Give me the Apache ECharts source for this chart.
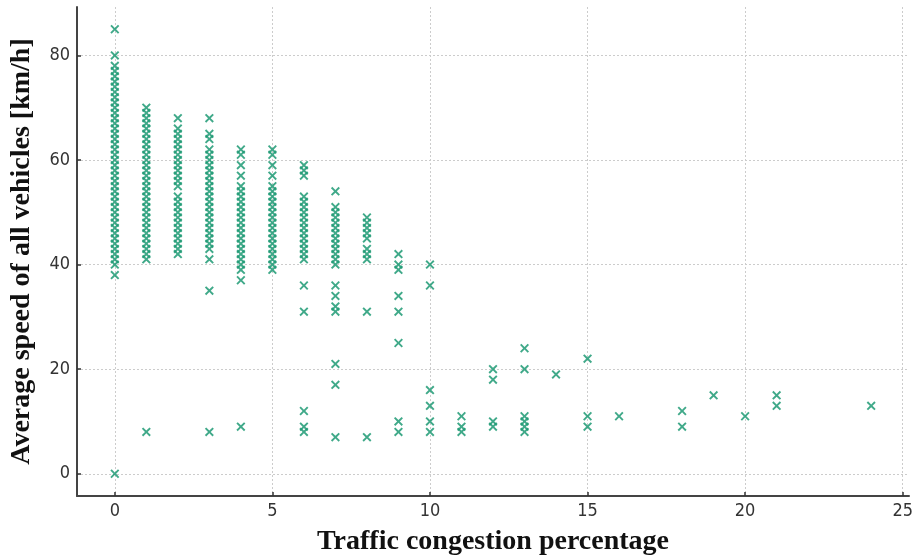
<!DOCTYPE html>
<html>
<head>
<meta charset="utf-8">
<script src="https://cdn.jsdelivr.net/npm/echarts@6/dist/echarts.min.js"></script>
<style>html,body{margin:0;padding:0;background:#fff;}#c{width:919px;height:560px;}</style>
</head>
<body>
<div id="c"></div>
<script>
// Traffic congestion percentage (x) and measured average speeds (y, km/h)
const speedsAt0 = [85, 80, 78, 77, 76, 75, 74, 73, 72, 71, 70, 69, 68, 67, 66, 65, 64, 63, 62, 61, 60, 59, 58, 57, 56, 55, 54, 53, 52, 51, 50, 49, 48, 47, 46, 45, 44, 43, 42, 41, 40, 38, 0];
const speedsAt1 = [70, 69, 68, 67, 66, 65, 64, 63, 62, 61, 60, 59, 58, 57, 56, 55, 54, 53, 52, 51, 50, 49, 48, 47, 46, 45, 44, 43, 42, 41, 8];
const speedsAt2 = [68, 66, 65, 64, 63, 62, 61, 60, 59, 58, 57, 56, 55, 53, 52, 51, 50, 49, 48, 47, 46, 45, 44, 43, 42];
const speedsAt3 = [68, 65, 64, 62, 61, 60, 59, 58, 57, 56, 55, 54, 53, 52, 51, 50, 49, 48, 47, 46, 45, 44, 43, 41, 35, 8];
const speedsAt4 = [62, 61, 59, 57, 55, 54, 53, 52, 51, 50, 49, 48, 47, 46, 45, 44, 43, 42, 41, 40, 39, 37, 9];
const speedsAt5 = [62, 61, 59, 57, 55, 54, 53, 52, 51, 50, 49, 48, 47, 46, 45, 44, 43, 42, 41, 40, 39];
const speedsAt6 = [59, 58, 57, 53, 52, 51, 50, 49, 48, 47, 46, 45, 44, 43, 42, 41, 36, 31, 12, 9, 8];
const speedsAt7 = [54, 51, 50, 49, 48, 47, 46, 45, 44, 43, 42, 41, 40, 36, 34, 32, 31, 21, 17, 7];
const speedsAt8 = [49, 48, 47, 46, 45, 43, 42, 41, 31, 7];
const speedsAt9 = [42, 40, 39, 34, 31, 25, 10, 8];
const speedsAt10 = [40, 36, 16, 13, 10, 8];
const speedsAt11 = [11, 9, 8];
const speedsAt12 = [20, 18, 10, 9];
const speedsAt13 = [24, 20, 11, 10, 9, 8];
const speedsAt14 = [19];
const speedsAt15 = [22, 11, 9];
const speedsAt16 = [11];
const speedsAt18 = [12, 9];
const speedsAt19 = [15];
const speedsAt20 = [11];
const speedsAt21 = [15, 13];
const speedsAt24 = [13];

const congestionLevels = [0, 1, 2, 3, 4, 5, 6, 7, 8, 9, 10, 11, 12, 13, 14, 15, 16, 18, 19, 20, 21, 24];
const speedsByLevel = [speedsAt0, speedsAt1, speedsAt2, speedsAt3, speedsAt4, speedsAt5, speedsAt6, speedsAt7, speedsAt8, speedsAt9, speedsAt10, speedsAt11, speedsAt12, speedsAt13, speedsAt14, speedsAt15, speedsAt16, speedsAt18, speedsAt19, speedsAt20, speedsAt21, speedsAt24];

const xTickValues = [0, 5, 10, 15, 20, 25];
const yTickValues = [0, 20, 40, 60, 80];

const points = [];
congestionLevels.forEach((lvl, i) => {
  speedsByLevel[i].forEach(v => points.push([lvl, v]));
});

const xMarker = 'path://M0,1.5L1.5,0L5,3.5L8.5,0L10,1.5L6.5,5L10,8.5L8.5,10L5,6.5L1.5,10L0,8.5L3.5,5Z';
const tickFont = "'DejaVu Sans Condensed', 'DejaVu Sans', sans-serif";
const titleFont = "'Liberation Serif', 'DejaVu Serif', serif";

const chart = echarts.init(document.getElementById('c'), null, {renderer: 'canvas'});
chart.setOption({
  animation: false,
  backgroundColor: '#ffffff',
  grid: {left: 77, right: 10, top: 7, bottom: 64, containLabel: false, outerBoundsMode: 'none'},
  xAxis: {
    type: 'value',
    min: -1.2,
    max: 25.2,
    name: 'Traffic congestion percentage',
    nameLocation: 'middle',
    nameGap: 32,
    nameTextStyle: {fontFamily: titleFont, fontWeight: 'bold', fontSize: 28, color: '#111'},
    axisLine: {show: true, onZero: false, lineStyle: {color: '#444', width: 2}},
    axisTick: {show: true, inside: true, length: 4, customValues: xTickValues, lineStyle: {color: '#333', width: 1.5}},
    axisLabel: {customValues: xTickValues, fontFamily: tickFont, fontSize: 18, color: '#333', margin: 6},
    splitLine: {show: true, lineStyle: {color: '#cccccc', type: [2, 2], width: 1}}
  },
  yAxis: {
    type: 'value',
    min: -4.25,
    max: 89.25,
    name: 'Average speed of all vehicles [km/h]',
    nameLocation: 'middle',
    nameGap: 41,
    nameRotate: 90,
    nameTextStyle: {fontFamily: titleFont, fontWeight: 'bold', fontSize: 28, color: '#111'},
    axisLine: {show: true, onZero: false, lineStyle: {color: '#444', width: 2}},
    axisTick: {show: true, inside: true, length: 4, customValues: yTickValues, lineStyle: {color: '#333', width: 1.5}},
    axisLabel: {customValues: yTickValues, fontFamily: tickFont, fontSize: 18, color: '#333', margin: 7},
    splitLine: {show: true, lineStyle: {color: '#cccccc', type: [2, 2], width: 1}}
  },
  series: [{
    type: 'scatter',
    data: points,
    symbol: xMarker,
    symbolSize: 9,
    itemStyle: {color: '#1f9a74', opacity: 0.85},
    emphasis: {disabled: true}
  }]
});
</script>
</body>
</html>
